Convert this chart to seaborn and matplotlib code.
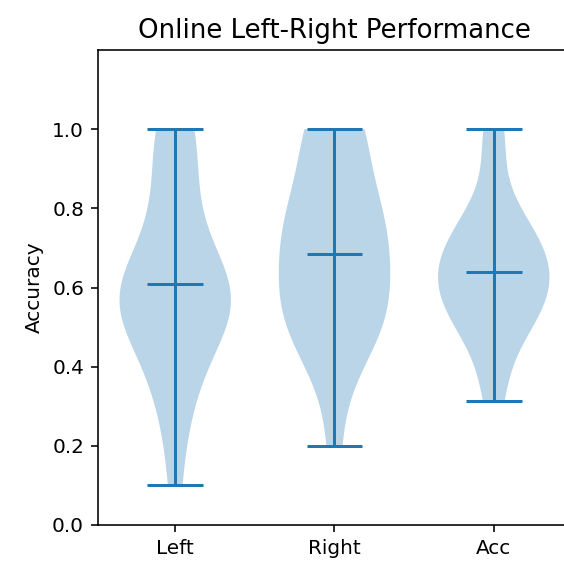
import matplotlib
matplotlib.use("Agg")
import matplotlib.pyplot as plt
import seaborn as sns
import numpy as np

# Per-session online accuracy for each condition
categories = ["Left", "Right", "Acc"]
left_acc = [0.100, 0.326, 0.328, 0.389, 0.555, 0.557, 0.560, 0.564, 0.565, 0.572,
            0.575, 0.579, 0.580, 0.580, 0.722, 0.825, 0.830, 0.992, 0.992, 1.000]
right_acc = [0.200, 0.452, 0.460, 0.465, 0.514, 0.542, 0.560, 0.609, 0.617, 0.646,
             0.706, 0.763, 0.776, 0.787, 0.793, 0.796, 1.000, 1.000, 1.000, 1.000]
total_acc = [0.3125, 0.379, 0.516, 0.518, 0.525, 0.530, 0.538, 0.610, 0.615, 0.621,
             0.645, 0.656, 0.672, 0.673, 0.711, 0.762, 0.769, 0.771, 0.958, 1.000]
y_ticks = [0.0, 0.2, 0.4, 0.6, 0.8, 1.0]

color = sns.color_palette()[0]

fig = plt.figure(figsize=(564 / 144, 562 / 144), dpi=144)
ax = fig.add_axes([98 / 564, 37 / 562, 473 / 564, 475 / 562])

positions = np.arange(1, len(categories) + 1)
parts = ax.violinplot([left_acc, right_acc, total_acc], positions=positions,
                      widths=0.7, showmeans=True, showextrema=True)
for body in parts["bodies"]:
    body.set_facecolor(color)
    body.set_alpha(0.3)
for key in ("cmeans", "cmins", "cmaxes", "cbars"):
    parts[key].set_color(color)

ax.set_xticks(positions)
ax.set_xticklabels(categories)
ax.set_yticks(y_ticks)
ax.set_ylim(0, 1.2)
ax.set_ylabel("Accuracy")
ax.set_title("Online Left-Right Performance", fontsize=13)

fig.savefig("out.png", dpi=144)
